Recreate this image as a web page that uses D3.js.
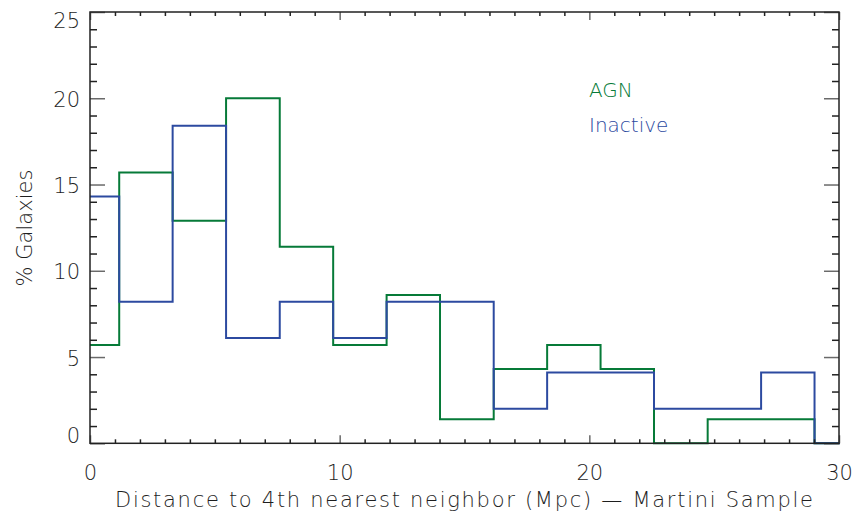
<!DOCTYPE html>
<html>
<head>
<meta charset="utf-8">
<script src="https://cdn.jsdelivr.net/npm/d3@7"></script>
<style>
    body { margin: 0; background: #fff; }
    svg text { font-family: "DejaVu Sans", sans-serif; font-weight: 200; fill: #1e1e1e; }
</style>
</head>
<body>
<svg id="chart" width="853" height="514"></svg>
<script>
// Histogram bin edges (Mpc)
const binEdges = [-0.97, 1.17, 3.31, 5.45, 7.60, 9.74, 11.88, 14.02, 16.17, 18.31, 20.45, 22.59, 24.74, 26.88, 29.02, 31.16];

// % of galaxies per bin
const agnValues = [5.7, 15.7, 12.9, 20.0, 11.4, 5.7, 8.6, 1.4, 4.3, 5.7, 4.3, 0.0, 1.4, 1.4, 0.0];
const inactiveValues = [14.3, 8.2, 18.4, 6.1, 8.2, 6.1, 8.2, 8.2, 2.0, 4.1, 4.1, 2.0, 2.0, 4.1, 0.0];

const xMajorTicks = [0, 10, 20, 30];
const yMajorTicks = [0, 5, 10, 15, 20, 25];

const legendLabels = ["AGN", "Inactive"];
const colors = { agn: "#067a38", inactive: "#2c4aa0", axis: "#222", major: "#6a6a6a" };


const plot = { left: 90, right: 839, top: 12, bottom: 443.3 };

const svg = d3.select("#chart");

const xScale = d3.scaleLinear().domain([0, 30]).range([plot.left, plot.right]);
const yScale = d3.scaleLinear().domain([0, 25]).range([plot.bottom, plot.top]);

svg.append("defs").append("clipPath")
    .attr("id", "plot-clip")
    .append("rect")
    .attr("x", plot.left)
    .attr("y", plot.top - 3)
    .attr("width", plot.right - plot.left + 1)
    .attr("height", plot.bottom - plot.top + 6);

function stepPoints(values) {
    const points = values.map((v, i) => [binEdges[i], v]);
    points.push([binEdges[binEdges.length - 1], values[values.length - 1]]);
    return points;
}

const line = d3.line()
    .x(d => xScale(d[0]))
    .y(d => yScale(d[1]))
    .curve(d3.curveStepAfter);

const histograms = svg.append("g").attr("clip-path", "url(#plot-clip)");

histograms.append("path")
    .attr("d", line(stepPoints(agnValues)))
    .attr("fill", "none")
    .attr("stroke", colors.agn)
    .attr("stroke-width", 2);

histograms.append("path")
    .attr("d", line(stepPoints(inactiveValues)))
    .attr("fill", "none")
    .attr("stroke", colors.inactive)
    .attr("stroke-width", 2);


// Axes (IDL style: ticks on all four sides, pointing in)
const xMinor = d3.range(0, 31, 1).filter(v => xMajorTicks.indexOf(v) < 0);
const yMinor = d3.range(0, 26, 1).filter(v => yMajorTicks.indexOf(v) < 0);

function styleAxis(g, color) {
    g.select(".domain").remove();
    g.selectAll(".tick line").attr("stroke", color).attr("stroke-width", 1.5);
}

// bottom
svg.append("g")
    .attr("transform", `translate(0,${plot.bottom})`)
    .call(d3.axisBottom(xScale).tickValues(xMinor).tickSize(-4).tickFormat(""))
    .call(g => styleAxis(g, colors.axis));

svg.append("g")
    .attr("class", "x-major")
    .attr("transform", `translate(0,${plot.bottom})`)
    .call(d3.axisBottom(xScale).tickValues(xMajorTicks).tickSize(-8).tickPadding(22).tickFormat(d3.format("d")))
    .call(g => styleAxis(g, colors.major))
    .call(g => g.selectAll("text").attr("font-size", 21).attr("fill", colors.axis));

// top
svg.append("g")
    .attr("transform", `translate(0,${plot.top})`)
    .call(d3.axisTop(xScale).tickValues(xMinor).tickSize(-4).tickFormat(""))
    .call(g => styleAxis(g, colors.axis));

svg.append("g")
    .attr("transform", `translate(0,${plot.top})`)
    .call(d3.axisTop(xScale).tickValues(xMajorTicks).tickSize(-8).tickFormat(""))
    .call(g => styleAxis(g, colors.major));

// left
svg.append("g")
    .attr("transform", `translate(${plot.left},0)`)
    .call(d3.axisLeft(yScale).tickValues(yMinor).tickSize(-7).tickFormat(""))
    .call(g => styleAxis(g, colors.axis));

svg.append("g")
    .attr("transform", `translate(${plot.left},0)`)
    .call(d3.axisLeft(yScale).tickValues(yMajorTicks).tickSize(-15).tickPadding(10).tickFormat(d3.format("d")))
    .call(g => styleAxis(g, colors.major))
    .call(g => g.selectAll("text")
        .attr("font-size", 21)
        .attr("fill", colors.axis)
        .attr("dy", d => d === 0 ? "-0.02em" : d === 25 ? "0.72em" : "0.38em"));

// right
svg.append("g")
    .attr("transform", `translate(${plot.right},0)`)
    .call(d3.axisRight(yScale).tickValues(yMinor).tickSize(-7).tickFormat(""))
    .call(g => styleAxis(g, colors.axis));

svg.append("g")
    .attr("transform", `translate(${plot.right},0)`)
    .call(d3.axisRight(yScale).tickValues(yMajorTicks).tickSize(-15).tickFormat(""))
    .call(g => styleAxis(g, colors.major));

// frame
svg.append("rect")
    .attr("x", plot.left)
    .attr("y", plot.top)
    .attr("width", plot.right - plot.left)
    .attr("height", plot.bottom - plot.top)
    .attr("fill", "none")
    .attr("stroke", colors.axis)
    .attr("stroke-width", 1.5);


// Titles
svg.append("text")
    .attr("x", 115)
    .attr("y", 507)
    .attr("font-size", 21)
    .attr("textLength", 698)
    .attr("lengthAdjust", "spacing")
    .text("Distance to 4th nearest neighbor (Mpc) \u2014 Martini Sample");

svg.append("text")
    .attr("transform", "translate(32,228) rotate(-90)")
    .attr("text-anchor", "middle")
    .attr("font-size", 21)
    .attr("textLength", 117)
    .attr("lengthAdjust", "spacing")
    .text("% Galaxies");


// Legend
svg.append("text")
    .attr("x", 589)
    .attr("y", 97)
    .attr("font-size", 20)
    .style("fill", colors.agn)
    .text(legendLabels[0]);

svg.append("text")
    .attr("x", 589)
    .attr("y", 132)
    .attr("font-size", 20)
    .style("fill", colors.inactive)
    .text(legendLabels[1]);
</script>
</body>
</html>
